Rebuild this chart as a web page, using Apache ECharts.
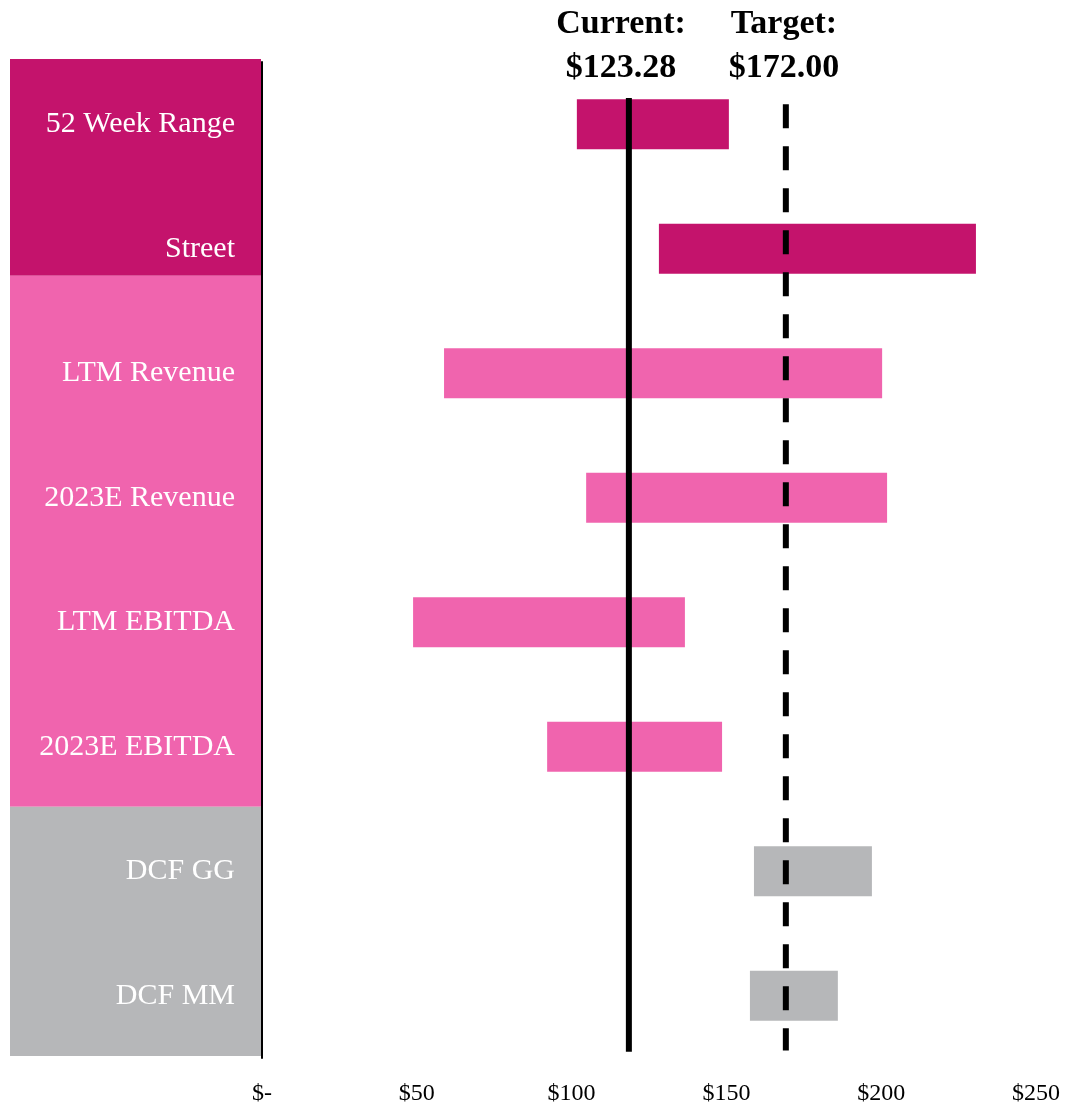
<!DOCTYPE html>
<html>
<head>
<meta charset="utf-8">
<script src="https://cdn.jsdelivr.net/npm/echarts@6/dist/echarts.min.js"></script>
<style>
html,body{margin:0;padding:0;background:#fff;}
#chart{width:1071px;height:1111px;}
</style>
</head>
<body>
<div id="chart"></div>
<script>
// ---- data ----
var categories = ['52 Week Range','Street','LTM Revenue','2023E Revenue','LTM EBITDA','2023E EBITDA','DCF GG','DCF MM'];
var lowValues  = [101.7, 128.2, 58.8, 104.7, 48.8, 92.1, 158.9, 157.6];
var highValues = [150.8, 230.6, 200.3, 201.9, 136.6, 148.6, 197.0, 186.0];
var groupOfRow = [0, 0, 1, 1, 1, 1, 2, 2];
var groupColors = ['#C4136C', '#F064AE', '#B6B7B9'];
// left panel bands, in row units (8 rows)
var bandSizes = [1.74, 4.26, 2.0];
var xTicks = [0, 50, 100, 150, 200, 250];
var currentPrice = 123.28;
var targetPrice = 172.00;
// line positions (value axis units)
var currentLineX = 118.5;
var targetLineX = 169.2;
var currentLineSpan = [0.29, 7.95];
var targetLineSpan = [0.34, 7.94];

var serif = '"Liberation Serif", "DejaVu Serif", serif';
var chart = echarts.init(document.getElementById('chart'));

var spans = highValues.map(function (h, i) {
  return { value: +(h - lowValues[i]).toFixed(2), itemStyle: { color: groupColors[groupOfRow[i]] } };
});

var option = {
  animation: false,
  backgroundColor: '#ffffff',
  grid: [
    { left: 10, top: 59, width: 251, height: 997 },       // panel
    { left: 262, right: 35, top: 62, bottom: 53 }          // main
  ],
  xAxis: [
    { gridIndex: 0, type: 'category', data: ['p'], show: false },
    {
      gridIndex: 1, type: 'value', min: xTicks[0], max: xTicks[xTicks.length - 1], interval: 50,
      axisLine: { show: false }, axisTick: { show: false }, splitLine: { show: false },
      axisLabel: {
        margin: 24, color: '#000', fontFamily: serif, fontSize: 24,
        formatter: function (v) { return v === 0 ? '$-' : '$' + v; }
      }
    }
  ],
  yAxis: [
    { gridIndex: 0, type: 'value', min: 0, max: 8, inverse: true, show: false },
    {
      gridIndex: 1, type: 'category', data: categories, inverse: true, zlevel: 1,
      axisLine: { show: true, lineStyle: { color: '#000', width: 2 } },
      axisTick: { show: false },
      axisLabel: { margin: 27, color: '#ffffff', fontFamily: serif, fontSize: 30, padding: [5, 0, 0, 0] }
    },
    { gridIndex: 1, type: 'value', min: 0, max: 8, inverse: true, show: false }
  ],
  series: [
    { type: 'bar', xAxisIndex: 0, yAxisIndex: 0, stack: 'panel', barWidth: '100%', data: [bandSizes[0]], itemStyle: { color: groupColors[0] }, silent: true },
    { type: 'bar', xAxisIndex: 0, yAxisIndex: 0, stack: 'panel', barWidth: '100%', data: [bandSizes[1]], itemStyle: { color: groupColors[1] }, silent: true },
    { type: 'bar', xAxisIndex: 0, yAxisIndex: 0, stack: 'panel', barWidth: '100%', data: [bandSizes[2]], itemStyle: { color: groupColors[2] }, silent: true },
    { type: 'bar', xAxisIndex: 1, yAxisIndex: 1, stack: 'range', barWidth: 50, data: lowValues, itemStyle: { color: 'transparent' }, silent: true },
    { type: 'bar', xAxisIndex: 1, yAxisIndex: 1, stack: 'range', barWidth: 50, data: spans },
    {
      type: 'line', xAxisIndex: 1, yAxisIndex: 2, symbol: 'none', z: 5,
      data: [[currentLineX, currentLineSpan[0]], [currentLineX, currentLineSpan[1]]],
      lineStyle: { color: '#000', width: 6, cap: 'butt' }
    },
    {
      type: 'line', xAxisIndex: 1, yAxisIndex: 2, symbol: 'none', z: 5,
      data: [[targetLineX, targetLineSpan[0]], [targetLineX, targetLineSpan[1]]],
      lineStyle: { color: '#000', width: 6, type: [24, 18], cap: 'butt' }
    }
  ],
  graphic: [
    { type: 'text', x: 621, y: 46, style: { text: 'Current:\n$' + currentPrice.toFixed(2), fill: '#000', font: 'bold 34px ' + serif, textAlign: 'center', textVerticalAlign: 'middle', lineHeight: 44 } },
    { type: 'text', x: 784, y: 46, style: { text: 'Target:\n$' + targetPrice.toFixed(2), fill: '#000', font: 'bold 34px ' + serif, textAlign: 'center', textVerticalAlign: 'middle', lineHeight: 44 } }
  ]
};
chart.setOption(option);
</script>
</body>
</html>
